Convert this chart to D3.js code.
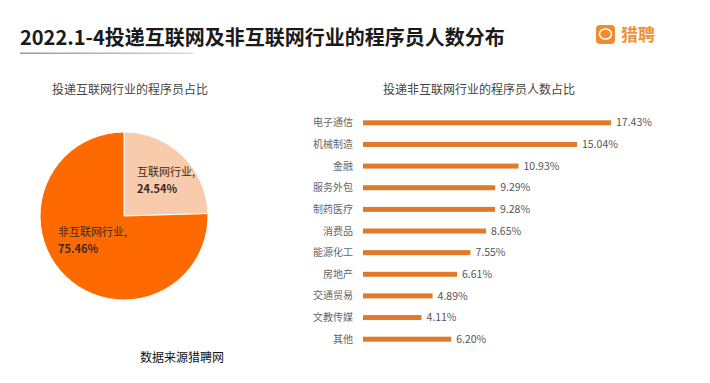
<!DOCTYPE html>
<html><head><meta charset="utf-8">
<script src="https://cdn.jsdelivr.net/npm/d3@7/dist/d3.min.js"></script>
<style>body{margin:0;background:#fff;}svg{display:block;}</style>
</head><body><svg id="c" width="710" height="383"></svg>
<script>
const title = "2022.1-4投递互联网及非互联网行业的程序员人数分布";
const pieTitle = "投递互联网行业的程序员占比";
const pieCats = ["互联网行业", "非互联网行业"];
const pieVals = [24.54, 75.46];
const barTitle = "投递非互联网行业的程序员人数占比";
const barCats = ["电子通信","机械制造","金融","服务外包","制药医疗","消费品","能源化工","房地产","交通贸易","文教传媒","其他"];
const barVals = [17.43,15.04,10.93,9.29,9.28,8.65,7.55,6.61,4.89,4.11,6.20];
const source = "数据来源猎聘网";
const brand = "猎聘";

const svg = d3.select("#c");
const font = "'Noto Sans CJK SC', 'Noto Sans', sans-serif";

// Title
svg.append("text").attr("x", 20).attr("y", 45).attr("font-family", font)
  .attr("font-size", 20).attr("font-weight", "bold").attr("fill", "#1a1a1a").text(title);
const grad = svg.append("defs").append("linearGradient").attr("id","ug");
grad.append("stop").attr("offset","0%").attr("stop-color","#999");
grad.append("stop").attr("offset","60%").attr("stop-color","#bbb");
grad.append("stop").attr("offset","100%").attr("stop-color","#e8d8c8");
svg.append("rect").attr("x", 20).attr("y", 52.5).attr("width", 173).attr("height", 1.5).attr("fill","url(#ug)");

// Brand logo
const lg = svg.append("g").attr("transform","translate(596,25)");
lg.append("rect").attr("width",19).attr("height",19).attr("rx",4).attr("fill","#F08C2E");
lg.append("ellipse").attr("cx",9.5).attr("cy",9).attr("rx",6).attr("ry",5).attr("fill","none").attr("stroke","#fff").attr("stroke-width",1.6);
svg.append("text").attr("x",621).attr("y",41).attr("font-family",font).attr("font-size",17)
  .attr("font-weight","bold").attr("fill","#F0903A").text(brand);

// Pie
svg.append("text").attr("x",130).attr("y",94).attr("text-anchor","middle").attr("font-family",font)
  .attr("font-size",12).attr("fill","#444").text(pieTitle);
const pieColors = ["#F8CBAD", "#FF6A00"];
const pie = d3.pie().sort(null).value(d => d)(pieVals);
const arc = d3.arc().innerRadius(0).outerRadius(84);
const pg = svg.append("g").attr("transform","translate(124,216)");
pg.selectAll("path").data(pie).join("path").attr("d", arc)
  .attr("fill",(d,i)=>pieColors[i]).attr("stroke","#fff").attr("stroke-width",1);
const pieLabelPos = [[137,176],[58,236]];
pieCats.forEach((c,i)=>{
  const t = svg.append("text").attr("font-family",font).attr("font-size",11).attr("fill","#3a2a20");
  t.append("tspan").attr("x",pieLabelPos[i][0]).attr("y",pieLabelPos[i][1]).text(c + ",");
  t.append("tspan").attr("x",pieLabelPos[i][0]).attr("y",pieLabelPos[i][1]+17).attr("font-weight","bold").text(pieVals[i].toFixed(2)+"%");
});

// Bars
svg.append("text").attr("x",479).attr("y",94).attr("text-anchor","middle").attr("font-family",font)
  .attr("font-size",12).attr("fill","#444").text(barTitle);
const x = d3.scaleLinear().domain([0,17.43]).range([363,611]);
const y = d3.scaleBand().domain(barCats).range([112,350]).paddingInner(0.77).paddingOuter(0.385);
const bg = svg.append("g");
bg.selectAll("rect").data(barCats).join("rect")
  .attr("x", x(0)).attr("y", d=>y(d)).attr("height", y.bandwidth())
  .attr("width",(d,i)=>x(barVals[i])-x(0)).attr("fill","#E07A2A");
bg.selectAll("text.cat").data(barCats).join("text").attr("class","cat")
  .attr("x",353).attr("y",d=>y(d)+y.bandwidth()/2).attr("dy","0.35em").attr("text-anchor","end")
  .attr("font-family",font).attr("font-size",10).attr("fill","#666").text(d=>d);
bg.selectAll("text.val").data(barCats).join("text").attr("class","val")
  .attr("x",(d,i)=>x(barVals[i])+5).attr("y",d=>y(d)+y.bandwidth()/2).attr("dy","0.35em")
  .attr("font-family",font).attr("font-size",10.5).attr("fill","#555").text((d,i)=>barVals[i].toFixed(2)+"%");

// Source
svg.append("text").attr("x",140).attr("y",362).attr("font-family",font).attr("font-size",12)
  .attr("fill","#111").text(source);
</script></body></html>
